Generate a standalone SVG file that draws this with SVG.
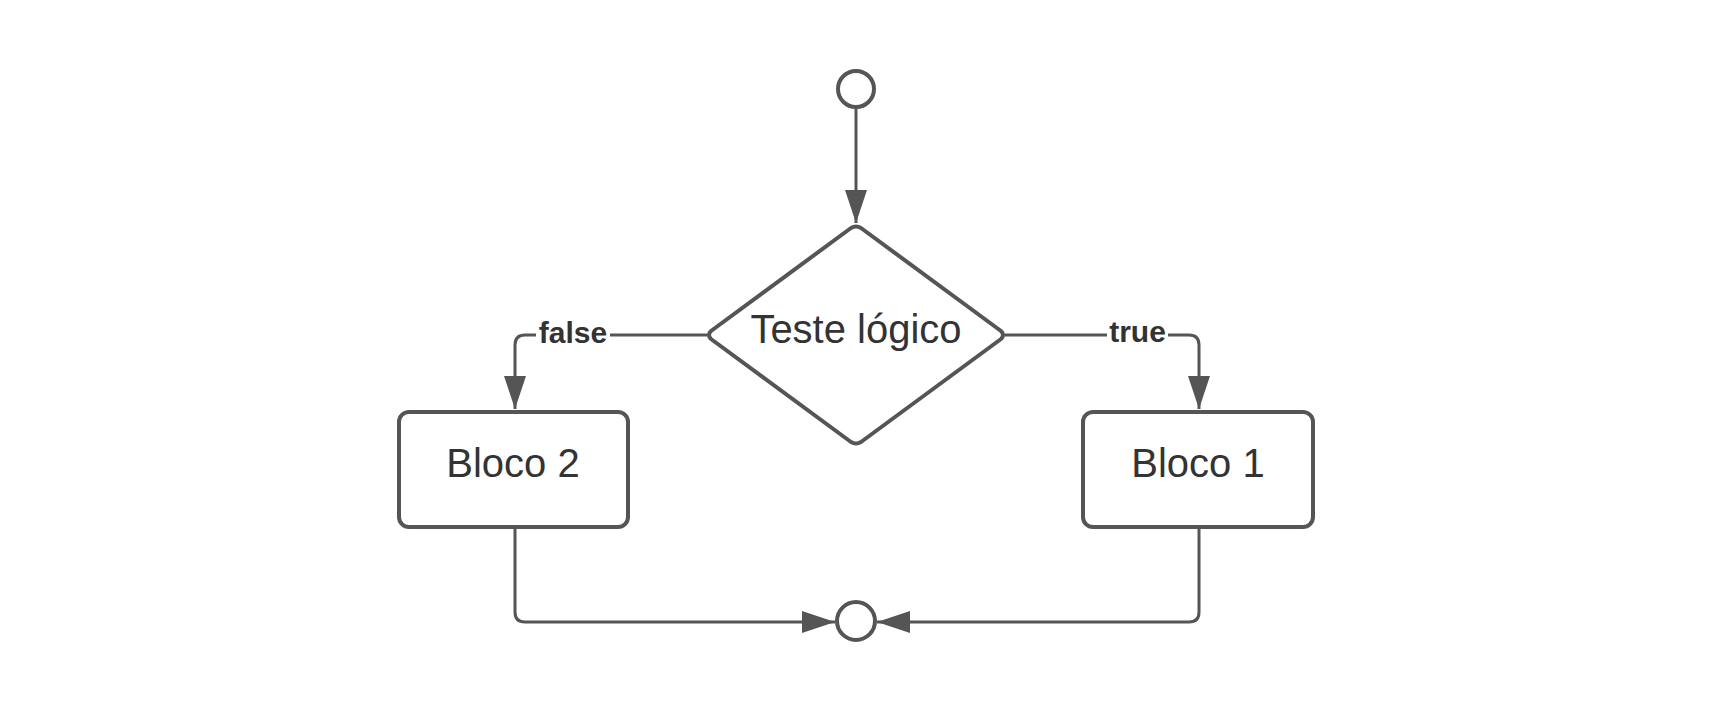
<svg xmlns="http://www.w3.org/2000/svg" width="1711" height="712" viewBox="0 0 1711 712">
<style>
.shape{fill:#fff;stroke:#555;stroke-width:4}
.conn{fill:none;stroke:#555;stroke-width:3}
.lbl{font-family:"Liberation Sans",Arial,sans-serif;font-size:40px;fill:#333;text-anchor:middle}
.elbl{font-family:"Liberation Sans",Arial,sans-serif;font-size:30px;font-weight:bold;fill:#333;text-anchor:middle}
</style>
<defs>
<marker id="arr" markerUnits="userSpaceOnUse" markerWidth="34" markerHeight="24" refX="33" refY="11" orient="auto">
<path d="M0,0 L33,11 L0,22 z" fill="#555"/>
</marker>
</defs>
<rect width="1711" height="712" fill="#fff"/>
<g id="connectors">
<path class="conn" d="M856,108 L856,223" marker-end="url(#arr)"/>
<path class="conn" d="M707,335 L525,335 Q515,335 515,345 L515,409" marker-end="url(#arr)"/>
<path class="conn" d="M1005,335 L1189,335 Q1199,335 1199,345 L1199,409" marker-end="url(#arr)"/>
<path class="conn" d="M515,527 L515,612 Q515,622 525,622 L835,622" marker-end="url(#arr)"/>
<path class="conn" d="M1199,527 L1199,612 Q1199,622 1189,622 L877,622" marker-end="url(#arr)"/>
<rect x="536" y="318" width="74" height="32" fill="#fff"/>
<text class="elbl" x="573" y="343">false</text>
<rect x="1107" y="318" width="61" height="32" fill="#fff"/>
<text class="elbl" x="1137.5" y="342">true</text>
</g>
<g id="start">
<circle class="shape" cx="856" cy="89" r="18"/>
</g>
<g id="decision">
<path class="shape" d="M851,228 Q856,225 861,228 L1001,331 Q1005,335 1001,339 L861,442 Q856,445 851,442 L711,339 Q707,335 711,331 Z" stroke-linejoin="round"/>
<text class="lbl" x="856" y="343">Teste lógico</text>
</g>
<g id="bloco2">
<rect class="shape" x="399" y="412" width="229" height="115" rx="10"/>
<text class="lbl" x="513" y="477">Bloco 2</text>
</g>
<g id="bloco1">
<rect class="shape" x="1083" y="412" width="230" height="115" rx="10"/>
<text class="lbl" x="1198" y="477">Bloco 1</text>
</g>
<g id="end">
<circle class="shape" cx="856" cy="621" r="19"/>
</g>
</svg>
